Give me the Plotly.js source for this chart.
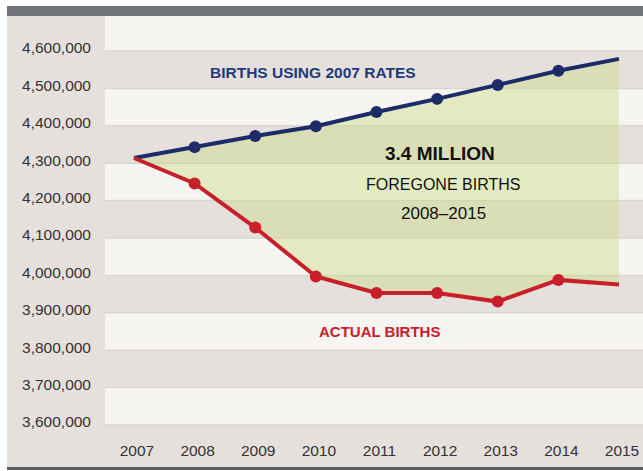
<!DOCTYPE html>
<html>
<head>
<meta charset="utf-8">
<script src="https://cdn.plot.ly/plotly-3.0.1.min.js"></script>
<style>
html,body{margin:0;padding:0;background:#ffffff;}
#chart{width:643px;height:471px;}
</style>
</head>
<body>
<div id="chart"></div>
<script>
// ---- data ----
var years = [2007, 2008, 2009, 2010, 2011, 2012, 2013, 2014, 2015];
var births2007Rates = [4314000, 4343000, 4373000, 4399000, 4437000, 4472000, 4509000, 4547000, 4579000];
var actualBirths = [4314000, 4246000, 4128000, 3997000, 3953000, 3953000, 3930000, 3988000, 3976000];
var yTicks = [3600000, 3700000, 3800000, 3900000, 4000000, 4100000, 4200000, 4300000, 4400000, 4500000, 4600000];
var xTicks = years;
var labelRates = "BIRTHS USING 2007 RATES";
var labelActual = "ACTUAL BIRTHS";
var labelTotal = "3.4 MILLION";
var labelForegone = "FOREGONE BIRTHS";
var labelPeriod = "2008–2015";

// ---- styling ----
var FONT = "'Liberation Sans', Arial, sans-serif";
var NAVY = "#1d2b68";
var RED = "#c8202b";
var BEIGE = "#e6e0dc";
var WHITE = "#f7f5f2";
var SEP = "#d9d5d2";

var W = 643, H = 471;
var mL = 105, mR = 0, mT = 16, mB = 32;
var pw = W - mL - mR, ph = H - mT - mB;
function px(x){ return (x - mL) / pw; }
function py(y){ return (H - mB - y) / ph; }

var markerSizes = years.map(function(_, i){ return (i === 0 || i === years.length - 1) ? 0 : 12; });

var traces = [
  {x: years, y: births2007Rates, type: 'scatter', mode: 'lines', line: {width: 0, color: NAVY}, hoverinfo: 'skip', showlegend: false},
  {x: years, y: actualBirths, type: 'scatter', mode: 'lines', line: {width: 0, color: RED}, fill: 'tonexty', fillcolor: 'rgba(200,220,128,0.42)', hoverinfo: 'skip', showlegend: false},
  {x: years, y: births2007Rates, type: 'scatter', mode: 'lines+markers', line: {width: 4, color: NAVY}, marker: {size: markerSizes, color: NAVY, opacity: 1, line: {width: 0}}, showlegend: false},
  {x: years, y: actualBirths, type: 'scatter', mode: 'lines+markers', line: {width: 4, color: RED}, marker: {size: markerSizes, color: RED, opacity: 1, line: {width: 0}}, showlegend: false}
];

var shapes = [];
shapes.push({type: 'rect', xref: 'paper', yref: 'paper', x0: px(7), x1: 1, y0: py(468), y1: 1, fillcolor: BEIGE, line: {width: 0}, layer: 'below'});
shapes.push({type: 'rect', xref: 'paper', yref: 'paper', x0: px(7), x1: 1, y0: 1, y1: py(6), fillcolor: '#707378', line: {width: 0}, layer: 'below'});
shapes.push({type: 'line', xref: 'paper', yref: 'paper', x0: px(7), x1: 1, y0: py(468.5), y1: py(468.5), line: {width: 3, color: '#5b5b5b'}, layer: 'above'});
for (var i = 0; i < yTicks.length; i += 2) {
  var lo = yTicks[i];
  var hi = lo + 100000;
  shapes.push({type: 'rect', xref: 'paper', yref: 'y', x0: 0, x1: 1, y0: lo, y1: hi, fillcolor: WHITE, line: {width: 0}, layer: 'below'});
}
var seps = yTicks.concat([4700000]);
seps.forEach(function(v){
  shapes.push({type: 'line', xref: 'paper', yref: 'y', x0: 0, x1: 1, y0: v, y1: v, line: {width: 1.5, color: SEP}, layer: 'below'});
});

var annotations = [
  {text: labelRates, xref: 'paper', yref: 'paper', x: px(313), y: py(73), xanchor: 'center', yanchor: 'middle', showarrow: false, font: {family: FONT, size: 15.5, color: '#213a7a', weight: 'bold'}},
  {text: labelTotal, xref: 'paper', yref: 'paper', x: px(440), y: py(153), xanchor: 'center', yanchor: 'middle', showarrow: false, font: {family: FONT, size: 19, color: '#111111', weight: 'bold'}},
  {text: labelForegone, xref: 'paper', yref: 'paper', x: px(443), y: py(184), xanchor: 'center', yanchor: 'middle', showarrow: false, font: {family: FONT, size: 16, color: '#111111'}},
  {text: labelPeriod, xref: 'paper', yref: 'paper', x: px(443), y: py(213), xanchor: 'center', yanchor: 'middle', showarrow: false, font: {family: FONT, size: 17, color: '#111111'}},
  {text: labelActual, xref: 'paper', yref: 'paper', x: px(379), y: py(331), xanchor: 'center', yanchor: 'middle', showarrow: false, font: {family: FONT, size: 15, color: RED, weight: 'bold'}}
];

var layout = {
  width: W, height: H,
  margin: {l: mL, r: mR, t: mT, b: mB, pad: 0},
  paper_bgcolor: '#ffffff',
  plot_bgcolor: 'rgba(0,0,0,0)',
  showlegend: false,
  xaxis: {
    range: [2006.522, 2015.396],
    tickvals: xTicks,
    ticktext: xTicks.map(String),
    showgrid: false, zeroline: false, showline: false, ticks: '',
    tickfont: {family: FONT, size: 15.5, color: '#333333'},
    ticklabelshift: 3,
    fixedrange: true
  },
  yaxis: {
    range: [3562600, 4693600],
    tickvals: yTicks,
    tickformat: ',d',
    showgrid: false, zeroline: false, showline: false, ticks: '',
    tickfont: {family: FONT, size: 15.5, color: '#333333'},
    ticklabelstandoff: 13,
    ticklabelshift: -3,
    fixedrange: true
  },
  shapes: shapes,
  annotations: annotations
};

Plotly.newPlot('chart', traces, layout, {displayModeBar: false, staticPlot: true});
</script>
</body>
</html>
